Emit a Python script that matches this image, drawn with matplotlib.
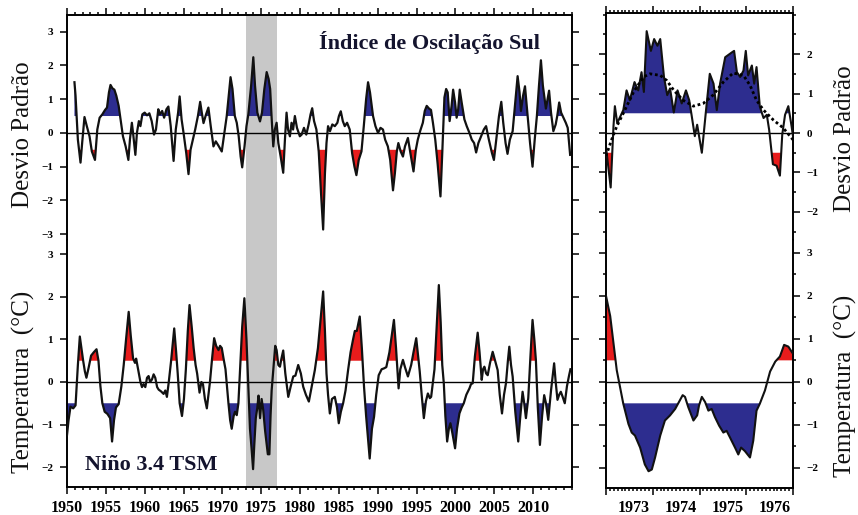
import numpy as np
import matplotlib
matplotlib.use("Agg")
import matplotlib.pyplot as plt
from matplotlib.ticker import MultipleLocator, FixedLocator

plt.rcParams['font.family'] = ['Liberation Serif', 'DejaVu Serif']

# ---------------- data ----------------
soi_years = [1950.96, 1951.10, 1951.40, 1951.74, 1951.95, 1952.25, 1952.55, 1952.90, 1953.20, 1953.60,
             1953.90, 1954.20, 1954.55, 1954.90, 1955.15, 1955.40, 1955.60, 1955.85, 1956.10, 1956.35,
             1956.65, 1956.90, 1957.20, 1957.55, 1957.90, 1958.10, 1958.35, 1958.55, 1958.80, 1959.00,
             1959.25, 1959.45, 1959.70, 1960.00, 1960.30, 1960.60, 1960.90, 1961.20, 1961.45, 1961.75,
             1961.95, 1962.25, 1962.50, 1962.80, 1963.05, 1963.35, 1963.72, 1964.00, 1964.30, 1964.50,
             1964.75, 1965.00, 1965.35, 1965.64, 1965.90, 1966.20, 1966.50, 1966.85, 1967.14, 1967.35,
             1967.57, 1967.90, 1968.20, 1968.50, 1968.85, 1969.15, 1969.50, 1969.92, 1970.20, 1970.56,
             1970.85, 1971.05, 1971.30, 1971.60, 1971.85, 1972.10, 1972.35, 1972.55, 1972.85, 1973.10,
             1973.34, 1973.70, 1973.98, 1974.20, 1974.50, 1974.84, 1975.10, 1975.40, 1975.70, 1975.95,
             1976.15, 1976.35, 1976.55, 1976.75, 1976.98, 1977.20, 1977.50, 1977.83, 1978.05, 1978.26,
             1978.45, 1978.69, 1978.90, 1979.10, 1979.33, 1979.60, 1979.97, 1980.20, 1980.50, 1980.80,
             1981.10, 1981.35, 1981.56, 1981.80, 1982.10, 1982.40, 1982.70, 1982.97, 1983.20, 1983.40,
             1983.60, 1983.85, 1984.15, 1984.47, 1984.80, 1985.00, 1985.24, 1985.50, 1985.75, 1986.05,
             1986.39, 1986.70, 1987.00, 1987.25, 1987.55, 1987.90, 1988.20, 1988.50, 1988.75, 1989.00,
             1989.39, 1989.70, 1990.03, 1990.35, 1990.67, 1990.95, 1991.30, 1991.60, 1991.96, 1992.20,
             1992.45, 1992.65, 1992.95, 1993.24, 1993.50, 1993.88, 1994.20, 1994.60, 1994.90, 1995.15,
             1995.45, 1995.80, 1996.05, 1996.30, 1996.60, 1996.85, 1997.10, 1997.40, 1997.70, 1998.07,
             1998.30, 1998.58, 1998.80, 1999.00, 1999.25, 1999.50, 1999.70, 1999.95, 2000.15, 2000.35,
             2000.55, 2000.80, 2001.15, 2001.45, 2001.80, 2002.10, 2002.40, 2002.66, 2002.95, 2003.30,
             2003.65, 2003.94, 2004.30, 2004.70, 2004.95, 2005.30, 2005.60, 2005.90, 2006.15, 2006.45,
             2006.70, 2007.00, 2007.36, 2007.65, 2008.00, 2008.25, 2008.43, 2008.70, 2008.95, 2009.25,
             2009.60, 2009.92, 2010.20, 2010.48, 2010.75, 2011.00, 2011.25, 2011.64, 2011.85, 2012.05,
             2012.30, 2012.60, 2012.90, 2013.10, 2013.35, 2013.60, 2013.90, 2014.20, 2014.45, 2014.76]
soi_values = [1.50, 1.10, -0.20, -0.88, -0.30, 0.47, 0.20, -0.10, -0.55, -0.80,
              0.10, 0.45, 0.55, 0.68, 0.75, 1.20, 1.42, 1.32, 1.28, 1.10,
              0.80, 0.40, -0.10, -0.40, -0.80, -0.20, 0.30, -0.10, -0.65, 0.00,
              0.35, 0.20, 0.55, 0.60, 0.52, 0.58, 0.35, -0.05, 0.10, 0.70,
              0.55, 0.65, 0.45, 0.70, 0.78, 0.20, -0.83, 0.10, 0.60, 1.08,
              0.40, 0.00, -0.60, -1.22, -0.50, -0.20, 0.10, 0.50, 0.92, 0.60,
              0.29, 0.55, 0.75, 0.20, -0.40, -0.25, -0.38, -0.55, -0.10, 0.50,
              1.20, 1.65, 1.30, 0.50, 0.30, -0.10, -0.70, -1.02, -0.40, 0.20,
              0.55, 1.40, 2.24, 1.40, 0.60, 0.34, 0.60, 1.30, 1.80, 1.60,
              1.30, 0.40, -0.40, 0.10, 0.30, -0.30, -0.70, -1.18, -0.20, 0.60,
              0.10, -0.10, 0.30, 0.10, 0.50, 0.15, -0.10, -0.05, 0.15, -0.05,
              0.25, 0.55, 0.73, 0.35, 0.10, -0.55, -1.80, -2.86, -1.20, -0.30,
              0.20, 0.05, 0.25, 0.20, 0.30, 0.50, 0.64, 0.35, 0.20, 0.30,
              0.10, -0.60, -1.00, -1.25, -0.80, -0.55, 0.20, 1.00, 1.50, 1.20,
              0.50, 0.20, 0.00, 0.15, 0.10, -0.20, -0.40, -0.80, -1.70, -1.20,
              -0.55, -0.30, -0.55, -0.70, -0.40, -0.15, -0.60, -1.14, -0.50, -0.20,
              0.05, 0.30, 0.65, 0.80, 0.72, 0.68, 0.30, -0.20, -0.90, -1.88,
              -0.60, 1.05, 1.30, 1.20, 0.35, 0.80, 1.28, 0.90, 0.45, 0.70,
              1.28, 0.90, 0.40, 0.20, 0.00, -0.20, -0.30, -0.58, -0.30, -0.10,
              0.10, 0.20, -0.20, -0.60, -0.80, -0.10, 0.50, 0.92, 0.30, -0.30,
              -0.62, -0.20, 0.05, 0.80, 1.68, 1.20, 0.65, 1.10, 1.38, 0.60,
              -0.30, -1.00, -0.20, 0.50, 1.40, 2.15, 1.40, 0.72, 1.00, 1.25,
              0.60, 0.05, 0.25, 0.50, 0.90, 0.60, 0.45, 0.30, 0.15, -0.65]

nino_years = [1950.00, 1950.20, 1950.45, 1950.80, 1951.10, 1951.40, 1951.65, 1951.85, 1952.08, 1952.30,
              1952.50, 1952.80, 1953.10, 1953.45, 1953.80, 1954.05, 1954.30, 1954.55, 1954.85, 1955.20,
              1955.55, 1955.80, 1956.05, 1956.30, 1956.65, 1957.00, 1957.30, 1957.60, 1957.94, 1958.20,
              1958.50, 1958.75, 1958.90, 1959.20, 1959.45, 1959.65, 1959.85, 1960.08, 1960.30, 1960.50,
              1960.70, 1960.94, 1961.15, 1961.36, 1961.60, 1961.80, 1962.10, 1962.43, 1962.65, 1962.86,
              1963.10, 1963.40, 1963.80, 1964.05, 1964.25, 1964.50, 1964.80, 1965.05, 1965.30, 1965.55,
              1965.77, 1966.05, 1966.30, 1966.55, 1966.75, 1967.06, 1967.30, 1967.50, 1967.75, 1968.00,
              1968.20, 1968.40, 1968.70, 1968.94, 1969.20, 1969.50, 1969.70, 1969.92, 1970.15, 1970.40,
              1970.78, 1971.00, 1971.20, 1971.45, 1971.63, 1971.85, 1972.06, 1972.30, 1972.55, 1972.83,
              1973.10, 1973.34, 1973.55, 1973.75, 1973.95, 1974.10, 1974.30, 1974.50, 1974.65, 1974.85,
              1975.05, 1975.25, 1975.50, 1975.75, 1975.85, 1976.05, 1976.20, 1976.34, 1976.60, 1976.80,
              1976.98, 1977.20, 1977.41, 1977.60, 1977.83, 1978.10, 1978.48, 1978.80, 1979.12, 1979.40,
              1979.76, 1980.10, 1980.40, 1980.75, 1981.13, 1981.50, 1981.90, 1982.30, 1982.70, 1982.97,
              1983.20, 1983.40, 1983.60, 1983.83, 1984.10, 1984.47, 1984.75, 1984.98, 1985.25, 1985.54,
              1985.85, 1986.18, 1986.50, 1986.82, 1987.05, 1987.30, 1987.68, 1987.95, 1988.23, 1988.50,
              1988.96, 1989.25, 1989.52, 1989.80, 1990.12, 1990.50, 1990.80, 1991.10, 1991.50, 1991.80,
              1992.08, 1992.35, 1992.55, 1992.68, 1992.90, 1993.24, 1993.50, 1993.88, 1994.30, 1994.60,
              1994.95, 1995.20, 1995.40, 1995.65, 1995.93, 1996.20, 1996.45, 1996.70, 1996.87, 1997.10,
              1997.30, 1997.55, 1997.86, 1998.10, 1998.30, 1998.50, 1998.70, 1998.93, 1999.15, 1999.35,
              1999.60, 1999.95, 2000.20, 2000.51, 2000.80, 2001.07, 2001.40, 2001.80, 2002.00, 2002.22,
              2002.50, 2002.86, 2003.10, 2003.38, 2003.55, 2003.72, 2003.95, 2004.15, 2004.45, 2004.79,
              2005.10, 2005.43, 2005.70, 2005.99, 2006.25, 2006.50, 2006.75, 2006.93, 2007.15, 2007.36,
              2007.70, 2008.08, 2008.35, 2008.64, 2008.85, 2009.07, 2009.37, 2009.65, 2009.92, 2010.15,
              2010.35, 2010.60, 2010.87, 2011.15, 2011.42, 2011.65, 2011.94, 2012.30, 2012.70, 2012.90,
              2013.13, 2013.35, 2013.56, 2013.80, 2014.07, 2014.35, 2014.63, 2014.80]
nino_values = [-1.25, -0.90, -0.58, -0.62, -0.55, 0.40, 1.07, 0.80, 0.50, 0.25,
               0.10, 0.35, 0.62, 0.70, 0.77, 0.50, -0.10, -0.50, -0.70, -0.75,
               -0.85, -1.40, -0.90, -0.60, -0.52, -0.10, 0.40, 1.00, 1.65, 1.10,
               0.56, 0.45, 0.55, 0.25, 0.00, -0.12, -0.05, -0.12, 0.10, 0.14,
               0.00, 0.06, 0.18, 0.10, -0.12, -0.18, -0.22, -0.28, -0.20, -0.35,
               0.00, 0.50, 1.26, 0.70, 0.20, -0.50, -0.80, -0.40, 0.30, 1.20,
               1.81, 1.30, 0.80, 0.40, 0.20, -0.25, 0.00, -0.05, -0.40, -0.62,
               -0.30, 0.00, 0.60, 1.03, 0.85, 0.75, 0.85, 0.80, 0.55, 0.30,
               -0.50, -0.90, -1.10, -0.80, -0.70, -0.78, -0.50, 0.40, 1.30, 1.97,
               1.00, -0.11, -1.10, -1.55, -2.05, -1.50, -0.85, -0.60, -0.32, -0.85,
               -0.40, -0.65, -1.15, -1.55, -1.70, -1.70, -0.80, -0.20, 0.40, 0.85,
               0.75, 0.40, 0.36, 0.55, 0.74, 0.20, -0.35, -0.10, 0.13, 0.15,
               0.40, 0.20, -0.11, -0.30, -0.46, -0.10, 0.28, 0.80, 1.60, 2.13,
               1.20, 0.20, -0.30, -0.74, -0.40, -0.35, -0.60, -0.97, -0.70, -0.50,
               -0.20, 0.28, 0.70, 1.00, 1.20, 1.20, 1.54, 0.80, -0.11, -0.80,
               -1.80, -1.10, -0.82, -0.30, 0.16, 0.30, 0.32, 0.35, 0.70, 1.10,
               1.46, 0.80, 0.20, -0.15, 0.30, 0.52, 0.35, 0.13, 0.40, 0.70,
               1.03, 0.60, 0.25, -0.30, -0.85, -0.45, -0.27, -0.38, -0.35, 0.00,
               0.30, 1.20, 2.28, 1.40, 0.40, -0.03, -0.80, -1.40, -1.10, -0.97,
               -1.20, -1.56, -1.10, -0.74, -0.60, -0.50, -0.30, -0.15, -0.05, -0.03,
               0.60, 1.16, 0.70, 0.05, 0.30, 0.36, 0.20, 0.16, 0.45, 0.71,
               0.50, 0.28, -0.30, -0.74, -0.30, -0.03, 0.50, 0.83, 0.40, 0.13,
               -0.70, -1.40, -0.80, -0.23, -0.50, -0.85, -0.38, 0.60, 1.46, 1.00,
               0.52, -0.60, -1.48, -0.80, -0.31, -0.50, -0.89, -0.20, 0.44, 0.00,
               -0.42, -0.30, -0.23, -0.35, -0.50, -0.10, 0.16, 0.30]

# zoomed period 1973-1976 (right-hand panels)
soi_zoom_years = [1973.01, 1973.10, 1973.16, 1973.19, 1973.24, 1973.37, 1973.44, 1973.51, 1973.61, 1973.69,
                  1973.76, 1973.81, 1973.87, 1973.96, 1974.03, 1974.10, 1974.16, 1974.24, 1974.31, 1974.37,
                  1974.45, 1974.53, 1974.62, 1974.71, 1974.78, 1974.83, 1974.90, 1974.95, 1975.05, 1975.14,
                  1975.22, 1975.30, 1975.37, 1975.44, 1975.55, 1975.69, 1975.74, 1975.80, 1975.87, 1975.94,
                  1975.99, 1976.04, 1976.12, 1976.17, 1976.22, 1976.29, 1976.37, 1976.44, 1976.49, 1976.57,
                  1976.65, 1976.72, 1976.77, 1976.83, 1976.90, 1976.97, 1977.00]
soi_zoom_values = [-0.46, -1.38, 0.17, 0.68, 0.25, 0.58, 1.08, 0.83, 1.29, 1.08,
                   1.54, 1.04, 2.58, 2.08, 2.38, 2.21, 2.38, 1.42, 0.96, 1.13,
                   0.52, 1.08, 0.75, 1.08, 0.83, 0.46, -0.08, 0.21, -0.50, 0.58,
                   1.50, 1.25, 0.58, 1.25, 1.92, 2.04, 2.08, 1.54, 1.42, 1.58,
                   2.08, 1.46, 1.71, 1.25, 1.67, 0.67, 0.38, 0.46, 0.08, -0.79,
                   -0.83, -1.08, -0.04, 0.46, 0.68, 0.17, -0.08]

soi_smooth_years = [1973.00, 1973.12, 1973.23, 1973.37, 1973.59, 1973.80, 1973.94, 1974.16, 1974.30,
                    1974.45, 1974.65, 1974.87, 1975.08, 1975.29, 1975.51, 1975.72, 1975.94, 1976.08,
                    1976.22, 1976.37, 1976.58, 1976.79, 1977.00]
soi_smooth_values = [-0.58, -0.17, 0.17, 0.50, 1.04, 1.42, 1.50, 1.46, 1.33,
                     1.08, 0.83, 0.68, 0.75, 0.96, 1.29, 1.52, 1.46, 1.21,
                     0.83, 0.58, 0.33, 0.13, -0.17]

nino_zoom_years = [1973.00, 1973.09, 1973.16, 1973.23, 1973.30, 1973.37, 1973.48, 1973.55, 1973.62, 1973.73,
                   1973.83, 1973.91, 1973.98, 1974.05, 1974.16, 1974.26, 1974.37, 1974.48, 1974.58, 1974.64,
                   1974.69, 1974.76, 1974.87, 1974.95, 1974.99, 1975.05, 1975.12, 1975.19, 1975.26, 1975.33,
                   1975.42, 1975.51, 1975.58, 1975.65, 1975.76, 1975.83, 1975.89, 1975.97, 1976.08, 1976.15,
                   1976.22, 1976.29, 1976.40, 1976.51, 1976.62, 1976.72, 1976.81, 1976.90, 1976.99]
nino_zoom_values = [2.00, 1.53, 0.90, 0.27, -0.12, -0.51, -0.98, -1.18, -1.25, -1.53,
                    -1.92, -2.08, -2.04, -1.76, -1.25, -0.90, -0.78, -0.63, -0.43, -0.31,
                    -0.35, -0.59, -0.90, -0.78, -0.55, -0.35, -0.47, -0.67, -0.63, -0.82,
                    -1.02, -1.18, -1.14, -1.29, -1.53, -1.69, -1.53, -1.61, -1.76, -1.37,
                    -0.67, -0.51, -0.20, 0.24, 0.47, 0.59, 0.86, 0.82, 0.67]

highlight_period = (1973.04, 1977.02)
left_xticks = [1950, 1955, 1960, 1965, 1970, 1975, 1980, 1985, 1990, 1995, 2000, 2005, 2010]
right_xlabels = ['1973', '1974', '1975', '1976']
right_label_pos = [1973.6, 1974.6, 1975.6, 1976.6]

title_soi = 'Índice de Oscilação Sul'
title_nino = 'Niño 3.4 TSM'
ylabel_soi = 'Desvio Padrão'
ylabel_nino = 'Temperatura  (°C)'

BLUE = '#2d2d8f'
RED = '#e81c1c'
GRAY = '#c8c8c8'

W, H = 858, 515
fig = plt.figure(figsize=(W / 100, H / 100), dpi=100)


def box(x0, y0, x1, y1):
    return [x0 / W, 1 - y1 / H, (x1 - x0) / W, (y1 - y0) / H]


axLt = fig.add_axes(box(67, 15, 572, 240))
axLb = fig.add_axes(box(67, 240, 572, 487))
axRt = fig.add_axes(box(606, 13, 793, 240))
axRb = fig.add_axes(box(606, 240, 793, 488))


def draw(ax, xs, ys, pos_col, neg_col, lw=1.6):
    x = np.asarray(xs, float)
    y = np.asarray(ys, float)
    ax.fill_between(x, 0.5, y, where=y > 0.5, interpolate=True, color=pos_col, lw=0, zorder=2)
    ax.fill_between(x, -0.5, y, where=y < -0.5, interpolate=True, color=neg_col, lw=0, zorder=2)
    ax.plot(x, y, color='#111111', lw=lw, zorder=4, solid_joinstyle='round')
    ax.axhline(0, color='black', lw=1.0, zorder=3)


draw(axLt, soi_years, soi_values, BLUE, RED)
draw(axLb, nino_years, nino_values, RED, BLUE)
draw(axRt, soi_zoom_years, soi_zoom_values, BLUE, RED, lw=1.5)
axRt.plot(soi_smooth_years, soi_smooth_values, color='black', lw=2.0,
          ls=(0, (1.0, 1.0)), zorder=5)
draw(axRb, nino_zoom_years, nino_zoom_values, RED, BLUE, lw=1.5)

for ax in (axLt, axLb):
    ax.axvspan(*highlight_period, color=GRAY, lw=0, zorder=0)
    ax.set_xlim(1950, 2015)
    ax.xaxis.set_major_locator(FixedLocator(left_xticks))
    ax.xaxis.set_minor_locator(MultipleLocator(1))

for ax in (axRt, axRb):
    ax.set_xlim(1973, 1977)
    ax.xaxis.set_major_locator(MultipleLocator(1))
    ax.xaxis.set_minor_locator(MultipleLocator(1 / 12))
    ax.yaxis.set_minor_locator(MultipleLocator(0.5))

axLt.set_ylim(-3.17, 3.49)
axLb.set_ylim(-2.47, 3.34)
axRt.set_ylim(-2.71, 3.04)
axRb.set_ylim(-2.47, 3.30)

axLt.set_yticks([-3, -2, -1, 0, 1, 2, 3])
axLb.set_yticks([-2, -1, 0, 1, 2, 3])
axRt.set_yticks([-2, -1, 0, 1, 2])
axRb.set_yticks([-2, -1, 0, 1, 2, 3])

for ax in (axLt, axLb, axRt, axRb):
    for s in ax.spines.values():
        s.set_linewidth(1.4)
    ax.tick_params(which='both', direction='out', width=1.1, color='black')
    ax.tick_params(which='major', length=5)
    ax.tick_params(which='minor', length=2.5)

for ax in (axLt, axRt):
    ax.spines['bottom'].set_visible(False)
    ax.tick_params(axis='x', which='both', top=True, bottom=False,
                   labeltop=False, labelbottom=False)
for ax in (axLb, axRb):
    ax.spines['top'].set_visible(False)
    ax.tick_params(axis='x', which='both', top=False, bottom=True)

for ax in (axLt, axLb):
    ax.tick_params(axis='y', which='both', left=True, right=True,
                   labelleft=True, labelright=False, labelsize=8, pad=5)
for ax in (axRt, axRb):
    ax.tick_params(axis='y', which='both', left=True, right=True,
                   labelleft=False, labelright=True, labelsize=8, pad=5)

axLb.set_xticklabels([str(v) for v in left_xticks])
axLb.tick_params(axis='x', labelsize=11.5, pad=4)
for lab in axLb.get_xticklabels():
    lab.set_fontweight('bold')
for ax in (axLt, axLb, axRt, axRb):
    for lab in ax.get_yticklabels():
        lab.set_fontweight('bold')

axRb.tick_params(axis='x', which='both', labelbottom=False)
sec = axRb.secondary_xaxis('bottom')
sec.set_xticks(right_label_pos, labels=right_xlabels)
sec.tick_params(axis='x', length=0, labelsize=11.5, pad=9)
sec.spines['bottom'].set_visible(False)
for lab in sec.get_xticklabels():
    lab.set_fontweight('bold')

# texts
fig.text(429 / W, 1 - 43 / H, title_soi, ha='center', va='center',
         fontsize=16, fontweight='bold', color='#14142e')
fig.text(151 / W, 1 - 465 / H, title_nino, ha='center', va='center',
         fontsize=16, fontweight='bold', color='#14142e')

lab_kw = dict(rotation=90, ha='center', va='center', fontsize=18, color='#111111')
fig.text(23 / W, 1 - 135 / H, ylabel_soi, **lab_kw)
fig.text(23 / W, 1 - 382 / H, ylabel_nino, **lab_kw)
fig.text(845 / W, 1 - 139 / H, ylabel_soi, **lab_kw)
fig.text(845 / W, 1 - 386 / H, ylabel_nino, **lab_kw)

fig.savefig('out.png', dpi=100)
